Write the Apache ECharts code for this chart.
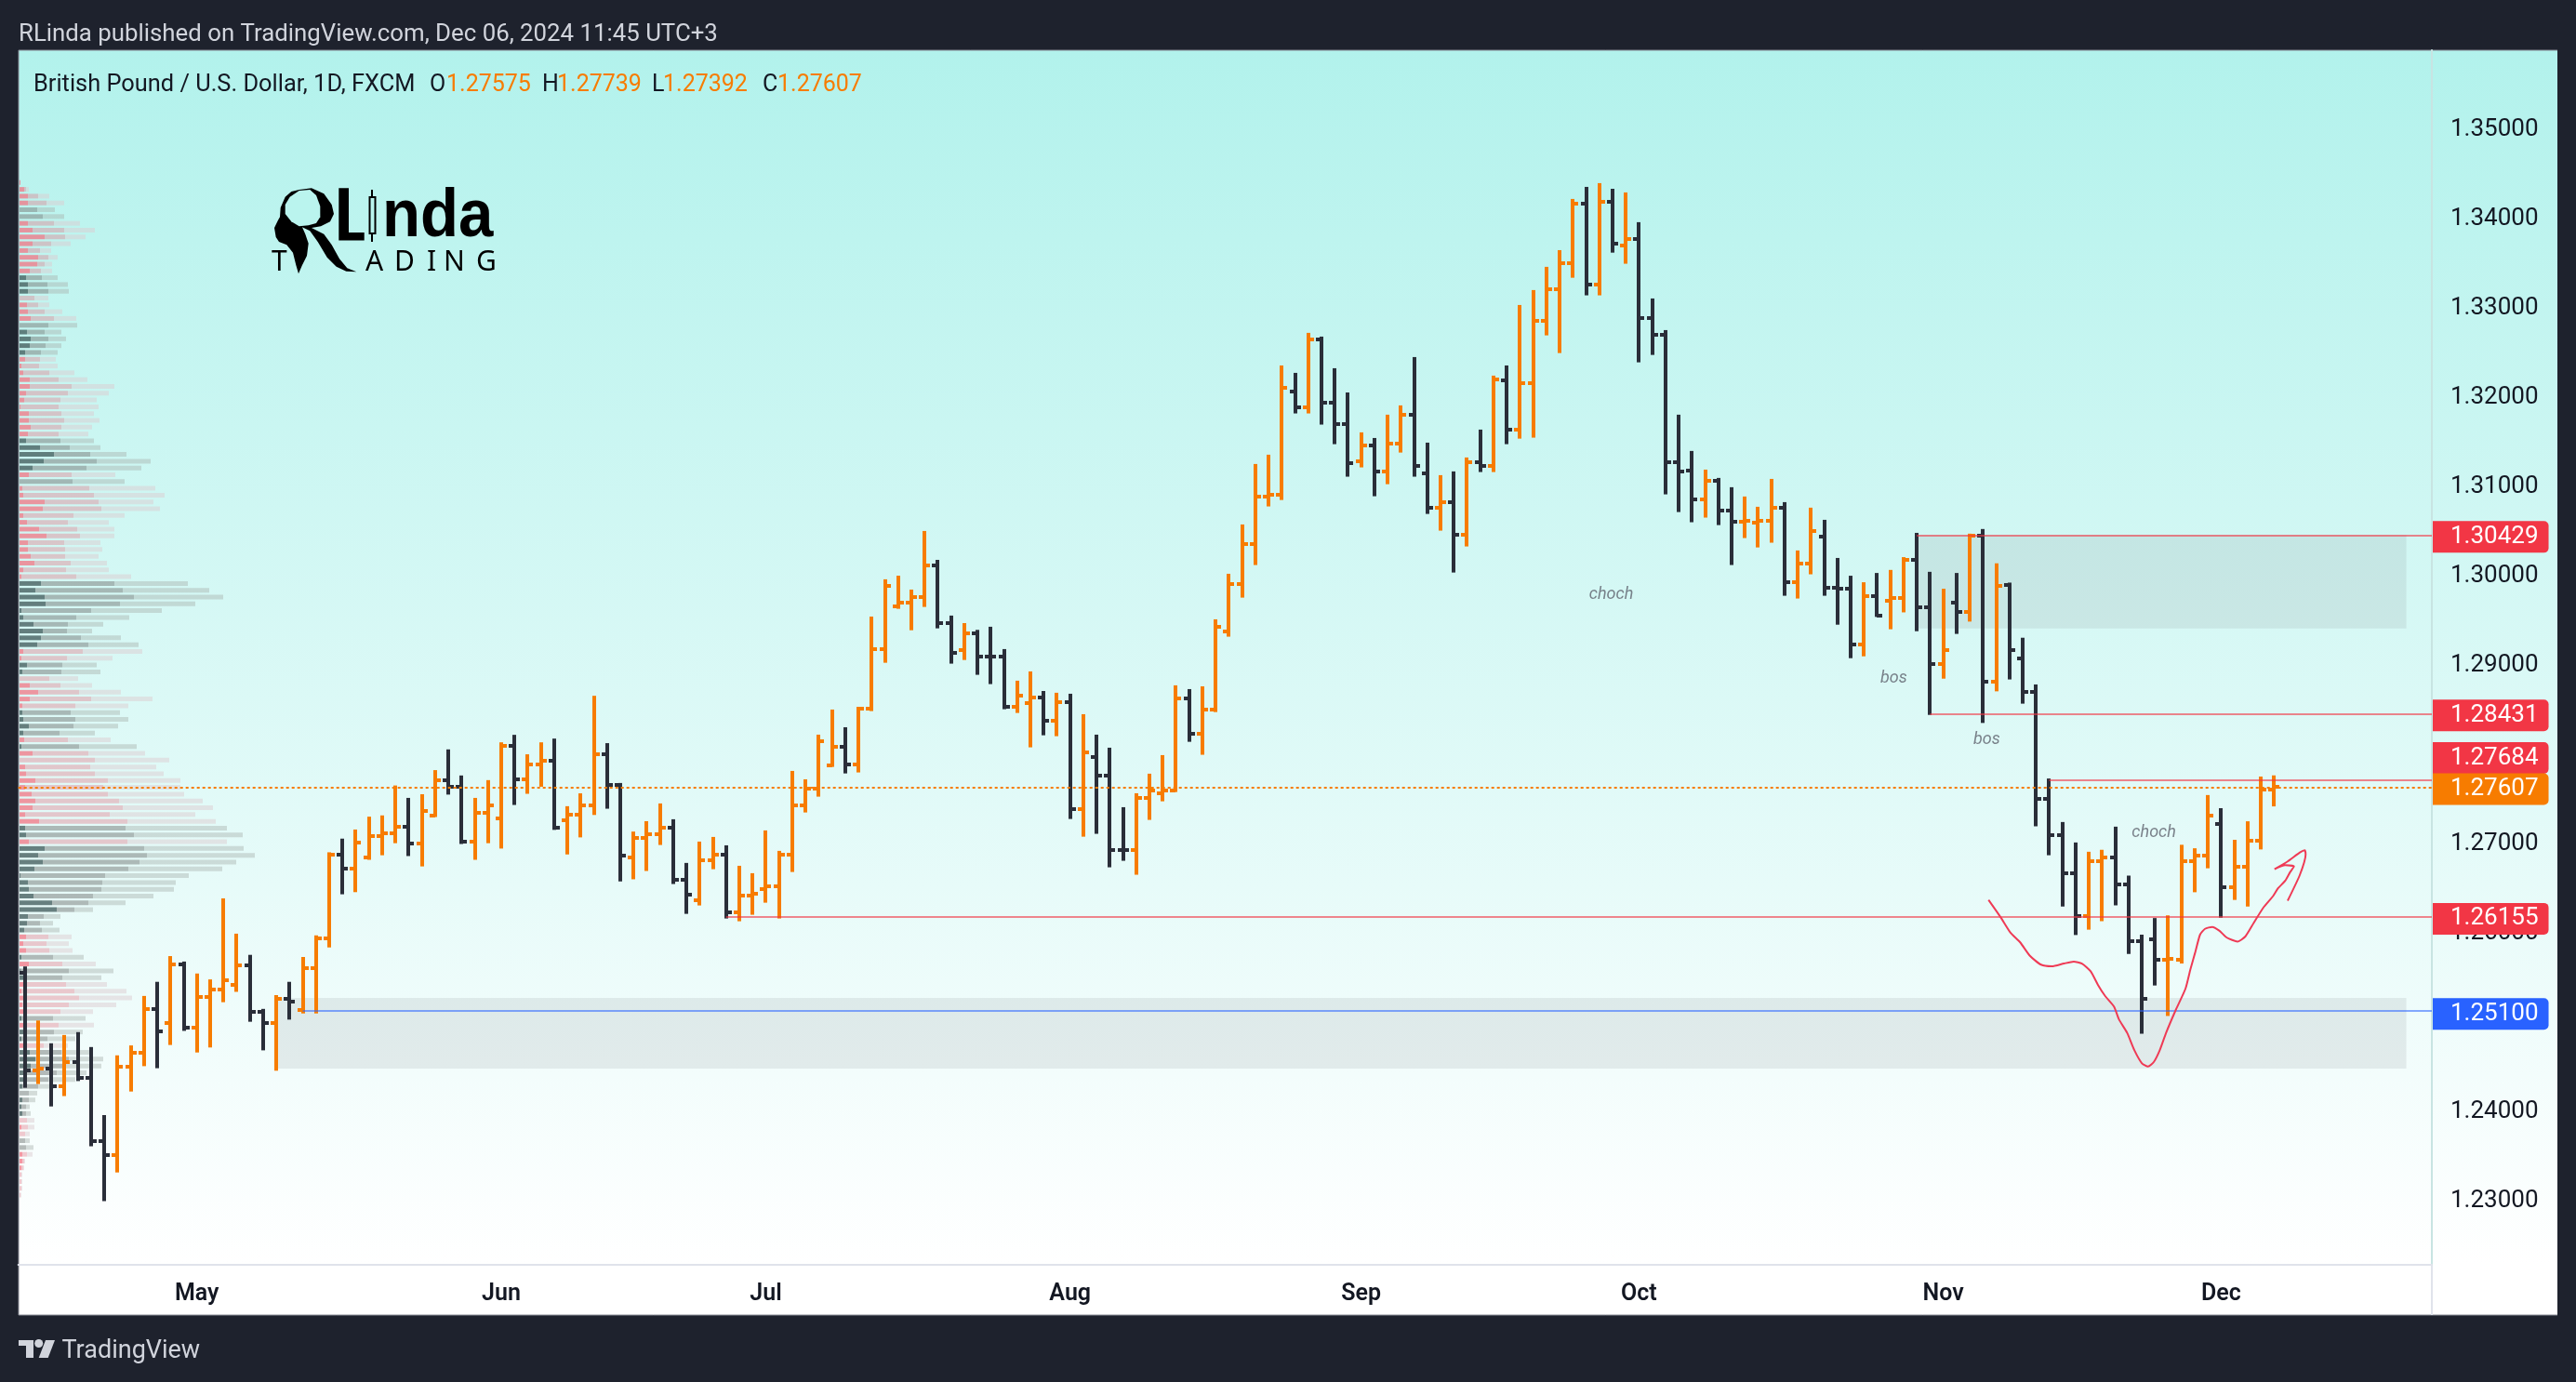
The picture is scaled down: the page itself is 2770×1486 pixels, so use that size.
<!DOCTYPE html>
<html>
<head>
<meta charset="utf-8">
<title>GBPUSD</title>
<style>
html, body { margin: 0; padding: 0; background: #1e222d; }
#chart { width: 2770px; height: 1486px; }
</style>
<script src="https://cdn.jsdelivr.net/npm/echarts@6/dist/echarts.min.js"></script>
</head>
<body>
<div id="chart"></div>
<script>
// daily bars, Apr 12 to Dec 6 2024
const opens = [
  1.2553,1.24438,1.24461,1.24261,1.2453,1.24354,1.23647,1.23489,1.24479,1.24637,
  1.25125,1.24967,1.25627,1.24916,1.2526,1.25344,1.25395,1.25613,1.25088,1.24972,
  1.25242,1.25116,1.25586,1.25916,1.26854,1.26696,1.26817,1.27064,1.27092,1.27166,
  1.2698,1.27291,1.27686,1.27612,1.26999,1.27324,1.27254,1.28072,1.27696,1.27863,
  1.27905,1.2724,1.27301,1.27408,1.27979,1.27631,1.26817,1.2704,1.27082,1.27154,
  1.26575,1.26346,1.26793,1.26856,1.2621,1.26398,1.26471,1.26502,1.26856,1.27407,
  1.27595,1.27855,1.28063,1.27865,1.2849,1.29156,1.29635,1.29677,1.29739,1.30093,
  1.29448,1.29146,1.29333,1.29073,1.29073,1.28511,1.28553,1.28615,1.28355,1.28563,
  1.27366,1.27949,1.27741,1.26908,1.26908,1.27491,1.27543,1.27574,1.28605,1.28209,
  1.2848,1.29354,1.29885,1.3033,1.30864,1.30885,1.3204,1.31863,1.32623,1.31915,
  1.31676,1.3126,1.31437,1.31145,1.31457,1.3178,1.31124,1.30736,1.30802,1.30434,
  1.31249,1.31208,1.32165,1.31614,1.32134,1.32832,1.33185,1.33477,1.34143,1.33238,
  1.34164,1.33675,1.33748,1.32863,1.32675,1.31249,1.31156,1.30833,1.31041,1.30708,
  1.30583,1.30573,1.30593,1.30739,1.29906,1.30115,1.3041,1.29841,1.29832,1.29206,
  1.2975,1.2969,1.2972,1.30156,1.29625,1.2899,1.29668,1.29573,1.30423,1.28792,
  1.29875,1.29051,1.28675,1.27471,1.27074,1.26643,1.26168,1.26781,1.26819,1.26513,
  1.25887,1.259,1.2568,1.2568,1.26781,1.26837,1.27199,1.26483,1.2672,1.27009,
  1.27575
];
const highs = [
  1.256,1.24995,1.2474,1.24833,1.24865,1.24698,1.23936,1.24605,1.24716,1.2527,
  1.25428,1.25716,1.25655,1.25521,1.25455,1.26362,1.25967,1.2573,1.25125,1.25279,
  1.25428,1.25706,1.25948,1.26878,1.27031,1.27133,1.27277,1.27291,1.27626,1.27487,
  1.27528,1.27798,1.2803,1.27738,1.27487,1.27686,1.28109,1.28193,1.27975,1.28109,
  1.28151,1.27394,1.27538,1.2863,1.281,1.27654,1.2711,1.27226,1.27425,1.27248,
  1.26759,1.26998,1.2705,1.26956,1.26727,1.26644,1.27123,1.26894,1.27789,1.27695,
  1.28195,1.28476,1.28278,1.28507,1.29517,1.29934,1.29975,1.29819,1.30475,1.30152,
  1.29528,1.29444,1.29368,1.29403,1.29153,1.28799,1.28903,1.28684,1.28664,1.28653,
  1.28424,1.28195,1.28049,1.27383,1.27539,1.27758,1.27966,1.28747,1.28705,1.28736,
  1.29486,1.29996,1.30548,1.31225,1.31329,1.32328,1.32245,1.32693,1.32651,1.32297,
  1.32026,1.31579,1.31516,1.31777,1.31881,1.32422,1.31464,1.311,1.31142,1.31298,
  1.3161,1.32214,1.32328,1.33005,1.33172,1.33432,1.33619,1.34192,1.34327,1.34369,
  1.34306,1.34265,1.33932,1.33078,1.32724,1.31777,1.31371,1.31162,1.31069,1.30965,
  1.30861,1.30746,1.31058,1.30798,1.30257,1.30736,1.306,1.30173,1.29974,1.29901,
  1.30005,1.30039,1.30182,1.30454,1.30018,1.29828,1.30005,1.30445,1.30497,1.30113,
  1.29897,1.2928,1.28757,1.27704,1.27217,1.26988,1.26884,1.26906,1.27165,1.26617,
  1.25956,1.26142,1.26172,1.26962,1.26923,1.27519,1.27372,1.27018,1.27225,1.27726,
  1.27739
];
const lows = [
  1.24242,1.24284,1.24033,1.24149,1.24317,1.23587,1.22973,1.23294,1.242,1.24484,
  1.24461,1.24721,1.24879,1.24637,1.24693,1.252,1.25316,1.24981,1.24661,1.24433,
  1.25005,1.25074,1.25074,1.25813,1.26408,1.26432,1.26794,1.26845,1.2698,1.26836,
  1.2672,1.27273,1.27524,1.26971,1.26794,1.2698,1.2692,1.27408,1.27533,1.27612,
  1.27129,1.26854,1.27045,1.27296,1.27366,1.26552,1.26576,1.26669,1.2696,1.26523,
  1.26189,1.26283,1.26689,1.26137,1.26106,1.26179,1.26314,1.26137,1.26658,1.27324,
  1.27501,1.27834,1.27761,1.27772,1.28459,1.29,1.29604,1.29364,1.29625,1.29385,
  1.2899,1.29031,1.28865,1.28761,1.2848,1.28438,1.28053,1.28188,1.28178,1.27251,
  1.27053,1.27085,1.2671,1.26783,1.26627,1.27241,1.27449,1.27553,1.28115,1.2797,
  1.28448,1.29292,1.29729,1.30094,1.3075,1.30822,1.31791,1.31791,1.31666,1.31447,
  1.31083,1.31187,1.30864,1.30999,1.31353,1.31083,1.30666,1.30479,1.3001,1.30302,
  1.31135,1.31135,1.31447,1.31509,1.3152,1.32665,1.32467,1.3331,1.33113,1.33113,
  1.33591,1.33467,1.32363,1.32446,1.30885,1.30687,1.30573,1.30625,1.30541,1.30094,
  1.30396,1.30291,1.30344,1.2975,1.29719,1.2999,1.2975,1.29426,1.29051,1.29072,
  1.29513,1.29375,1.29564,1.29353,1.28416,1.28822,1.29323,1.29461,1.28326,1.2868,
  1.28813,1.28542,1.27169,1.26845,1.26271,1.25952,1.26012,1.26107,1.26284,1.2574,
  1.24847,1.25387,1.25046,1.25633,1.26431,1.26699,1.26146,1.26345,1.26271,1.2691,
  1.27392
];
const closes = [
  1.24438,1.24461,1.24261,1.2453,1.24354,1.23647,1.23489,1.24479,1.24637,1.25125,
  1.24874,1.25627,1.24916,1.2526,1.25344,1.25451,1.25613,1.25088,1.24972,1.25242,
  1.25209,1.25586,1.25916,1.26854,1.26696,1.26989,1.27064,1.27092,1.27166,1.2698,
  1.27343,1.27686,1.27612,1.26999,1.27324,1.27408,1.28072,1.27696,1.27863,1.27905,
  1.27157,1.27301,1.27408,1.27979,1.27631,1.26845,1.2704,1.27082,1.27154,1.26575,
  1.26408,1.26793,1.26856,1.2621,1.26398,1.26418,1.26502,1.26856,1.27407,1.27595,
  1.28126,1.28063,1.27865,1.2849,1.29156,1.29864,1.29677,1.29739,1.30093,1.29448,
  1.29115,1.29333,1.29073,1.29072,1.28511,1.28636,1.28615,1.28355,1.28563,1.27366,
  1.28001,1.27741,1.26908,1.26907,1.27491,1.27574,1.27574,1.28605,1.28209,1.2848,
  1.29406,1.29885,1.3033,1.30864,1.30885,1.32082,1.31863,1.32623,1.31915,1.31676,
  1.31239,1.31437,1.31145,1.31457,1.3178,1.31208,1.30736,1.30802,1.30434,1.31249,
  1.31208,1.32176,1.31614,1.32134,1.32832,1.33185,1.33477,1.34143,1.33238,1.34164,
  1.33696,1.33748,1.32863,1.32675,1.31249,1.31145,1.30833,1.31041,1.30708,1.30583,
  1.30593,1.30593,1.30739,1.29906,1.30115,1.30479,1.29841,1.29832,1.29206,1.2975,
  1.29526,1.2972,1.30156,1.29625,1.2899,1.29137,1.29573,1.30423,1.28792,1.29862,
  1.29137,1.28675,1.27471,1.27074,1.26643,1.26168,1.26781,1.26819,1.26513,1.25887,
  1.25236,1.2568,1.25681,1.26781,1.26837,1.27286,1.26483,1.2672,1.27009,1.27575,
  1.27607
];

// month labels sit on the first trading day of the month (bar number)
const monthBars = [13, 36, 56, 79, 101, 122, 145, 166];
const monthNames = ["May", "Jun", "Jul", "Aug", "Sep", "Oct", "Nov", "Dec"];
const priceTicks = [1.23, 1.24, 1.25, 1.26, 1.27, 1.28, 1.29, 1.30, 1.31, 1.32, 1.33, 1.34, 1.35];

// horizontal levels: price, first bar, tag colour, tag shift
const levelPrices = [1.30429, 1.28431, 1.26155, 1.251, 1.27684];
const levelStarts = [143, 144, 53, 21, 153];
const levelColors = ["#f23645", "#f23645", "#f23645", "#2962ff", "#f23645"];
const levelShifts = [2, 2, 2, 3, -24];
const lastPrice = 1.27607;

// grey zones
const zoneStarts = [143, 19];
const zoneEnds = [180, 180];
const zoneTops = [1.30429, 1.25247];
const zoneBottoms = [1.29383, 1.24458];

// hand drawn arrow
const curveBars = [
  148.42,149.34,150.08,150.81,151.55,152.39,153.2,154.12,154.86,155.48,156.14,156.69,157.25,157.91,158.28,158.9,
  159.45,160,160.48,160.92,161.36,161.84,162.58,163.31,163.68,164.05,164.41,164.78,165.33,165.88,166.44,167.25,
  167.83,168.46,169.19,169.93,170.3,170.85,171.21,171.51,170.85,170.04,171.03,171.95,172.32,172.39,171.95,171.03
];
const curvePrices = [
  1.26345,1.2615,1.25978,1.2587,1.25719,1.2562,1.25602,1.25633,1.25654,1.25633,1.25546,1.25395,1.25266,1.25149,1.25007,1.24856,
  1.24661,1.24519,1.2448,1.24532,1.24661,1.24856,1.25115,1.25352,1.25568,1.25762,1.25956,1.26021,1.26043,1.25999,1.25922,1.25879,
  1.25935,1.26086,1.26258,1.26388,1.26474,1.26561,1.26655,1.2672,1.26733,1.2669,1.26776,1.26876,1.26901,1.26854,1.26625,1.26336
];

// text notes on the chart
const noteBars = [119.9, 141.26, 148.28, 160.92];
const notePrices = [1.29764, 1.28826, 1.28136, 1.271];
const noteTexts = ["choch", "bos", "bos", "choch"];

// volume profile rows from the top down
const vpKind = ("rrrrggrrrrrrrrgggrrrrgggggrrrrrrrrrrrrgggggrgrrrrrrrrrrrrrrgggggggg" +
  "ggrrggrrrrrggggrgrrrrrrrrrrrggrgggggggggggggrrrgrggrrrrrgrggrggggggggggrrrggrrrrrrr").split("");
const vpInner = [
  1,5,9,9,0,0,9,14,27,14,9,20,19,11,7,9,9,0,8,9,12,0,8,12,11,6,6,2,4,11,11,7,5,1,10,10,12,9,7,22,37,26,14,10,0,3,4,27,25,4,
  8,21,29,9,9,12,16,4,2,23,17,27,28,2,4,15,25,
  23,19,4,2,8,3,0,11,20,11,3,3,4,10,4,5,2,14,0,6,7,17,6,13,17,14,6,21,6,7,10,27,20,25,16,1,9,10,15,35,40,9,8,5,7,4,7,2,10,1,
  5,5,2,5,3,5,2,5,4,2,5,11,17,12,7,4,3,0,3,2,3,0,2,0,0,0,3,3,2,0,0,0,0
];
const vpMiddle = [
  1,7,20,29,19,25,37,48,49,34,22,31,27,23,24,30,31,16,20,27,37,31,27,31,28,23,22,21,32,42,56,52,44,42,45,48,45,42,44,54,76,83,72,56,57,75,80,85,88,58,
  52,62,65,48,49,49,55,50,61,102,111,123,108,77,61,52,51,
  66,74,68,51,46,45,32,44,64,77,60,55,60,58,43,52,64,74,81,76,81,95,90,95,107,111,97,116,114,123,116,134,137,129,117,92,89,88,79,74,59,26,22,24,31,29,32,36,46,53,
  46,50,59,64,53,44,36,42,37,30,26,45,53,50,40,31,20,10,10,7,7,8,9,6,6,7,8,5,4,2,2,2,1
];
const vpOuter = [
  1,10,32,48,38,48,65,81,71,55,34,41,35,35,41,52,53,31,32,46,61,62,45,50,45,41,39,41,59,73,102,96,83,85,80,86,78,74,80,87,115,141,131,103,113,146,156,144,151,113,
  96,102,102,87,89,85,94,96,120,181,204,219,189,153,118,90,78,
  109,128,132,100,83,87,63,78,109,143,117,108,117,106,81,98,126,135,161,147,155,173,173,177,197,208,189,211,223,240,223,241,253,233,218,182,168,166,144,114,79,44,36,43,56,53,57,69,82,101,
  88,94,115,121,104,79,71,80,68,60,52,76,90,88,72,60,37,19,17,11,12,16,16,11,11,15,14,6,5,3,3,3,2
];

const upColor = "#f77c00";
const downColor = "#2a2e39";
const frameColor = "#1e222d";
const uiFont = "Roboto";

let chart = echarts.init(document.querySelector("#chart"));

function renderBar(params, api) {
    let i = api.value(0);
    let open = api.coord([i, api.value(1)]);
    let high = api.coord([i, api.value(2)]);
    let low = api.coord([i, api.value(3)]);
    let close = api.coord([i, api.value(4)]);
    let color = api.value(4) >= api.value(1) ? upColor : downColor;
    let x = Math.round(high[0]);
    let rect = (l, t, w, h) => ({ type: "rect", shape: { x: l, y: t, width: w, height: h }, style: { fill: color } });
    return {
        type: "group",
        children: [
            rect(x - 2, high[1], 4, low[1] - high[1]),
            rect(x - 6, Math.round(open[1]) - 2, 6, 4),
            rect(x, Math.round(close[1]) - 2, 6, 4)
        ]
    };
}

function renderZone(params, api) {
    let a = api.coord([api.value(0), api.value(2)]);
    let b = api.coord([api.value(1), api.value(3)]);
    return {
        type: "rect",
        shape: { x: a[0], y: a[1], width: b[0] - a[0], height: b[1] - a[1] },
        style: { fill: "rgba(130,135,140,.15)" }
    };
}

function vpColor(level) {
    let reds = ["rgba(242,112,127,.73)", "rgba(227,122,137,.4)", "rgba(220,203,209,.49)"];
    let greys = ["rgba(60,85,85,.75)", "rgba(125,132,130,.55)", "rgba(168,177,173,.44)"];
    return (p) => (vpKind[p.dataIndex] === "r" ? reds[level] : greys[level]);
}

function levelLine(i) {
    let tagText = levelPrices[i].toFixed(5);
    let lineColor = levelColors[i] === "#2962ff" ? "rgba(41,98,255,.55)" : "rgba(242,54,69,.6)";
    return [
        {
            xAxis: levelStarts[i],
            yAxis: levelPrices[i],
            lineStyle: { color: lineColor, width: 2, type: "solid" },
            label: priceTag(tagText, levelColors[i], levelShifts[i])
        },
        { xAxis: 181.93, yAxis: levelPrices[i] }
    ];
}

function priceTag(text, color, shift) {
    return {
        show: true,
        position: "end",
        distance: 1,
        offset: [0, shift],
        formatter: text,
        color: "#ffffff",
        fontFamily: uiFont,
        fontSize: 26,
        lineHeight: 33,
        backgroundColor: color,
        borderRadius: [0, 5, 5, 0],
        padding: [1, 11, 0, 19]
    };
}

function text(x, y, str, color, size, extra) {
    return {
        type: "text",
        x: x,
        y: y,
        z: 20,
        silent: true,
        style: Object.assign({ text: str, fill: color, font: size + "px " + uiFont, verticalAlign: "middle" }, extra || {})
    };
}

function poly(points, fill, z) {
    return { type: "polygon", z: z || 20, silent: true, shape: { points: points }, style: { fill: fill } };
}

function box(x, y, w, h, fill, z) {
    return { type: "rect", z: z || 20, silent: true, shape: { x: x, y: y, width: w, height: h }, style: { fill: fill } };
}

let logoLetters = ["T", "A", "D", "I", "N", "G"];
let logoLetterX = [292, 393, 424, 459, 477, 512];
let logoBg = "#baf4ee";

let option = {
    animation: false,
    backgroundColor: frameColor,
    graphic: {
        elements: [
            {
                type: "rect",
                z: -10,
                silent: true,
                shape: { x: 20, y: 54, width: 2730, height: 1360 },
                style: {
                    fill: new echarts.graphic.LinearGradient(0, 0, 0, 1, [
                        { offset: 0, color: "#b2f2ec" },
                        { offset: 0.96, color: "#ffffff" },
                        { offset: 1, color: "#ffffff" }
                    ])
                }
            },
            { type: "line", z: -9, silent: true, shape: { x1: 20, y1: 54, x2: 2750, y2: 54 }, style: { stroke: "#868993", lineWidth: 1 } },
            { type: "line", z: -9, silent: true, shape: { x1: 20, y1: 54, x2: 20, y2: 1414 }, style: { stroke: "#868993", lineWidth: 1 } },
            { type: "line", z: -9, silent: true, shape: { x1: 20, y1: 1414, x2: 2750, y2: 1414 }, style: { stroke: "#868993", lineWidth: 1 } },
            { type: "line", z: -9, silent: true, shape: { x1: 2615, y1: 1360, x2: 2615, y2: 1414 }, style: { stroke: "#e0e3eb", lineWidth: 2 } },

            text(20, 38, "RLinda published on TradingView.com, Dec 06, 2024 11:45 UTC+3", "#d1d4dc", 25.8),

            text(36, 92, "British Pound / U.S. Dollar, 1D, FXCM", "#131722", 25.4),
            text(462, 92, "O", "#131722", 25),
            text(480, 92, "1.27575", upColor, 25),
            text(583, 92, "H", "#131722", 25),
            text(599, 92, "1.27739", upColor, 25),
            text(701, 92, "L", "#131722", 25),
            text(713, 92, "1.27392", upColor, 25),
            text(820, 92, "C", "#131722", 25),
            text(836, 92, "1.27607", upColor, 25),

            // logo
            poly([[321.7,204],[335,202.3],[348.3,208.3],[356.7,220],[359,230],[355,238.3],[345,243.3],[335,245],[348.3,251.7],[356.7,263.3],[365,278.3],[373.3,288.3],[383.3,292.3],[372.3,291.7],[361.7,286.7],[351.7,276.7],[341.7,260],[333.3,248.3],[325,244.3],[328.3,251.7],[331.7,261.7],[330,275],[325,285],[321,294.3],[318.3,285],[315,271.7],[308.3,263.3],[300,260],[296.7,255],[295,245],[299,236.7],[301,233.3],[301.7,223.3],[306.7,211.7],[313.3,206]], "#000000"),
            poly([[321.7,205],[333.3,204],[340,210],[344.3,221.7],[344.3,233.3],[340,240],[331.7,242.3],[321.7,243.3],[313.3,238.3],[306.7,230],[306.7,220],[311.7,211.7]], logoBg, 21),
            poly([[364.3,202.3],[375,202.3],[375,250],[391.7,250],[391.7,258.5],[364.3,258.5]], "#000000"),
            box(399, 204, 2, 56, "#000000"),
            box(396.5, 211, 8, 41, "#000000"),
            box(398.5, 213, 4, 37, logoBg, 21),
            Object.assign(text(411, 234, "nda", "#000000", 73, { font: "700 73px 'Liberation Sans'" }), { scaleX: 0.92 })
        ].concat(logoLetters.map((c, i) => text(logoLetterX[i], 282, c, "#000000", 30, { font: "30px 'Noto Sans'" })))
         .concat([
            // footer mark
            poly([[20,1441],[36,1441],[36,1460],[28,1460],[28,1447],[20,1447]], "#d1d4dc"),
            { type: "circle", z: 20, silent: true, shape: { cx: 41.7, cy: 1444.5, r: 4.5 }, style: { fill: "#d1d4dc" } },
            poly([[49,1441],[59,1441],[51.7,1460],[41.7,1460]], "#d1d4dc"),
            text(66.5, 1453, "TradingView", "#d1d4dc", 27)
         ])
    },
    grid: [
        { left: 19.7, top: 54, width: 2595.3, height: 1306, z: 2 },
        { left: 21, top: 192.65, width: 300, height: 1096, z: 1 }
    ],
    xAxis: [
        {
            type: "value",
            gridIndex: 0,
            min: -0.5,
            max: 181.93,
            splitLine: { show: false },
            axisTick: { show: false },
            axisLine: { show: true, onZero: false, lineStyle: { color: "#e0e3eb", width: 2 } },
            axisLabel: {
                margin: 19,
                customValues: monthBars,
                color: "#131722",
                fontFamily: uiFont,
                fontWeight: 600,
                fontSize: 25,
                formatter: (v) => monthNames[monthBars.indexOf(v)] || ""
            }
        },
        { type: "value", gridIndex: 1, min: 0, max: 300, show: false }
    ],
    yAxis: [
        {
            type: "value",
            gridIndex: 0,
            position: "right",
            min: 1.2226,
            max: 1.35857,
            splitLine: { show: false },
            axisTick: { show: false },
            axisLine: { show: true, onZero: false, lineStyle: { color: "#c8e4e2", width: 2 } },
            axisLabel: {
                margin: 20,
                customValues: priceTicks,
                color: "#131722",
                fontFamily: uiFont,
                fontSize: 26,
                rich: { p: { fontFamily: uiFont, fontSize: 26, color: "#131722", padding: [6, 0, 0, 0] } },
                formatter: (v) => "{p|" + v.toFixed(5) + "}"
            }
        },
        {
            type: "category",
            gridIndex: 1,
            inverse: true,
            show: false,
            data: vpKind.map((k, i) => i)
        }
    ],
    series: [
        {
            name: "vp inner",
            type: "bar",
            xAxisIndex: 1,
            yAxisIndex: 1,
            stack: "vp",
            barWidth: 5,
            z: 1,
            silent: true,
            data: vpInner,
            itemStyle: { color: vpColor(0) }
        },
        {
            name: "vp middle",
            type: "bar",
            xAxisIndex: 1,
            yAxisIndex: 1,
            stack: "vp",
            barWidth: 5,
            z: 1,
            silent: true,
            data: vpMiddle.map((v, i) => v - vpInner[i]),
            itemStyle: { color: vpColor(1) }
        },
        {
            name: "vp outer",
            type: "bar",
            xAxisIndex: 1,
            yAxisIndex: 1,
            stack: "vp",
            barWidth: 5,
            z: 1,
            silent: true,
            data: vpOuter.map((v, i) => v - vpMiddle[i]),
            itemStyle: { color: vpColor(2) }
        },
        {
            name: "zones",
            type: "custom",
            xAxisIndex: 0,
            yAxisIndex: 0,
            z: 2,
            silent: true,
            renderItem: renderZone,
            encode: { x: [0, 1], y: [2, 3] },
            data: zoneStarts.map((s, i) => [s, zoneEnds[i], zoneTops[i], zoneBottoms[i]])
        },
        {
            name: "levels",
            type: "line",
            xAxisIndex: 0,
            yAxisIndex: 0,
            data: [],
            z: 3,
            silent: true,
            markLine: {
                silent: true,
                symbol: "none",
                precision: 5,
                data: levelPrices.map((p, i) => levelLine(i))
            }
        },
        {
            name: "GBPUSD",
            type: "custom",
            xAxisIndex: 0,
            yAxisIndex: 0,
            z: 4,
            silent: true,
            renderItem: renderBar,
            encode: { x: 0, y: [1, 2, 3, 4] },
            data: opens.map((o, i) => [i, o, highs[i], lows[i], closes[i]])
        },
        {
            name: "last",
            type: "line",
            xAxisIndex: 0,
            yAxisIndex: 0,
            data: [],
            z: 5,
            silent: true,
            markLine: {
                silent: true,
                symbol: "none",
                precision: 5,
                data: [[
                    {
                        xAxis: -0.5,
                        yAxis: lastPrice,
                        lineStyle: { color: upColor, width: 2, type: [3, 3] },
                        label: priceTag(lastPrice.toFixed(5), upColor, 2)
                    },
                    { xAxis: 181.93, yAxis: lastPrice }
                ]]
            }
        },
        {
            name: "arrow",
            type: "line",
            xAxisIndex: 0,
            yAxisIndex: 0,
            z: 6,
            silent: true,
            showSymbol: false,
            symbol: "none",
            smooth: 0.2,
            lineStyle: { color: "#ef3a55", width: 2 },
            data: curveBars.map((b, i) => [b, curvePrices[i]])
        },
        {
            name: "notes",
            type: "scatter",
            xAxisIndex: 0,
            yAxisIndex: 0,
            z: 6,
            silent: true,
            symbolSize: 1,
            itemStyle: { color: "rgba(0,0,0,0)" },
            label: {
                show: true,
                position: "inside",
                fontFamily: uiFont,
                fontStyle: "italic",
                fontSize: 18,
                color: "#5f636e",
                formatter: (p) => noteTexts[p.dataIndex]
            },
            data: noteBars.map((b, i) => [b, notePrices[i]])
        }
    ]
};

chart.setOption(option);

window.onresize = function () {
    chart.resize();
};
</script>
</body>
</html>
